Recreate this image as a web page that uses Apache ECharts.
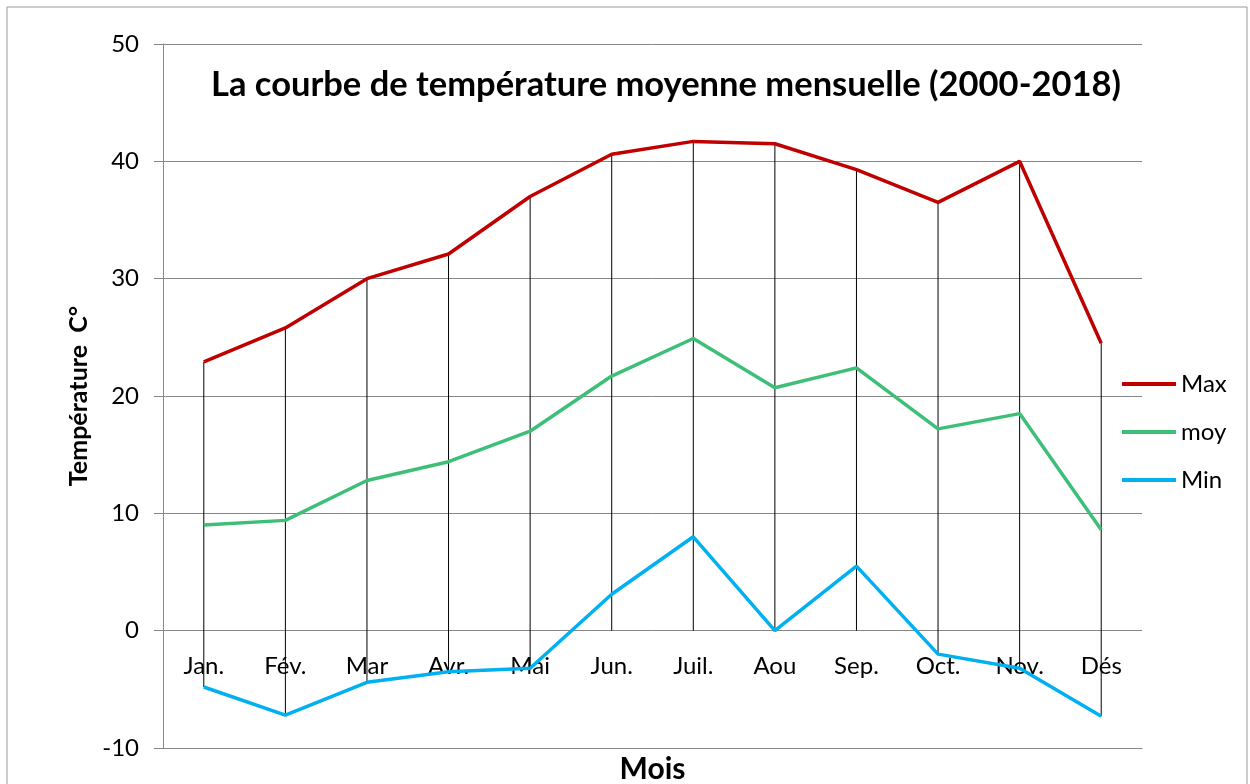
<!DOCTYPE html>
<html>
<head>
<meta charset="utf-8">
<script src="https://cdn.jsdelivr.net/npm/echarts@6/dist/echarts.min.js"></script>
<style>
html, body { margin: 0; padding: 0; background: #fff; }
#main { width: 1250px; height: 784px; }
</style>
</head>
<body>
<div id="main"></div>
<script>
var mois = ['Jan.', 'Fév.', 'Mar', 'Avr.', 'Mai', 'Jun.', 'Juil.', 'Aou', 'Sep.', 'Oct.', 'Nov.', 'Dés'];
var tMax = [22.9, 25.8, 30.0, 32.1, 37.0, 40.6, 41.7, 41.5, 39.3, 36.5, 40.0, 24.5];
var tMoy = [9.0, 9.4, 12.8, 14.4, 17.0, 21.7, 24.9, 20.7, 22.4, 17.2, 18.5, 8.6];
var tMin = [-4.8, -7.2, -4.4, -3.5, -3.2, 3.1, 8.0, 0.0, 5.5, -2.0, -3.2, -7.3];

// lignes de projection : du max jusqu'au plus bas entre 0 et le min
var dropData = mois.map(function (m, i) {
    return [i, tMax[i], Math.min(0, tMin[i])];
});

var font = 'Lato, "Open Sans", sans-serif';
var myChart = echarts.init(document.getElementById('main'));
var option = {
    backgroundColor: '#fff',
    textStyle: { fontFamily: font },
    title: {
        text: 'La courbe de température moyenne mensuelle (2000-2018)',
        left: 661,
        top: 62,
        textAlign: 'center',
        textStyle: { fontFamily: font, fontWeight: 'bold', fontSize: 34.5, color: '#000' }
    },
    legend: {
        data: ['Max', 'moy', 'Min'],
        orient: 'vertical',
        left: 1117,
        top: 367,
        icon: 'rect',
        itemWidth: 54,
        itemHeight: 4,
        itemGap: 24,
        textStyle: { fontFamily: font, fontSize: 24, color: '#000' }
    },
    grid: { left: 163, right: 108, top: 44, bottom: 36, containLabel: false, outerBoundsMode: 'none' },
    graphic: [{
        type: 'rect',
        shape: { x: 7, y: 7, width: 1240, height: 800 },
        style: { fill: null, stroke: '#999', lineWidth: 1 },
        silent: true
    }],
    xAxis: {
        type: 'category',
        data: mois,
        boundaryGap: true,
        name: 'Mois',
        nameLocation: 'middle',
        nameGap: 6,
        nameTextStyle: { fontFamily: font, fontWeight: 'bold', fontSize: 30, color: '#000' },
        axisLine: { onZero: false, lineStyle: { color: '#878787', width: 1 } },
        axisTick: { show: false },
        axisLabel: { fontFamily: font, fontSize: 24, color: '#000', margin: -94 }
    },
    yAxis: {
        type: 'value',
        min: -10,
        max: 50,
        interval: 10,
        name: 'Température  C°',
        nameLocation: 'middle',
        nameGap: 71,
        nameTextStyle: { fontFamily: font, fontWeight: 'bold', fontSize: 25, color: '#000' },
        axisLine: { show: true, lineStyle: { color: '#878787', width: 1 } },
        axisTick: { show: true, length: 9, lineStyle: { color: '#878787' } },
        axisLabel: { fontFamily: font, fontSize: 24, color: '#000', margin: 24 },
        splitLine: { lineStyle: { color: '#878787', width: 1 } }
    },
    series: [
        {
            name: 'drop',
            type: 'custom',
            data: dropData,
            z: 1,
            silent: true,
            renderItem: function (params, api) {
                var p1 = api.coord([api.value(0), api.value(1)]);
                var p2 = api.coord([api.value(0), api.value(2)]);
                return {
                    type: 'line',
                    shape: { x1: p1[0], y1: p1[1], x2: p2[0], y2: p2[1] },
                    style: { stroke: '#000', lineWidth: 1 }
                };
            }
        },
        {
            name: 'Max', type: 'line', data: tMax, z: 3,
            symbol: 'none', color: '#C00000',
            lineStyle: { width: 3.5, color: '#C00000' }
        },
        {
            name: 'moy', type: 'line', data: tMoy, z: 3,
            symbol: 'none', color: '#3DBF78',
            lineStyle: { width: 3.5, color: '#3DBF78' }
        },
        {
            name: 'Min', type: 'line', data: tMin, z: 3,
            symbol: 'none', color: '#00B0F0',
            lineStyle: { width: 3.5, color: '#00B0F0' }
        }
    ]
};
myChart.setOption(option);
</script>
</body>
</html>
